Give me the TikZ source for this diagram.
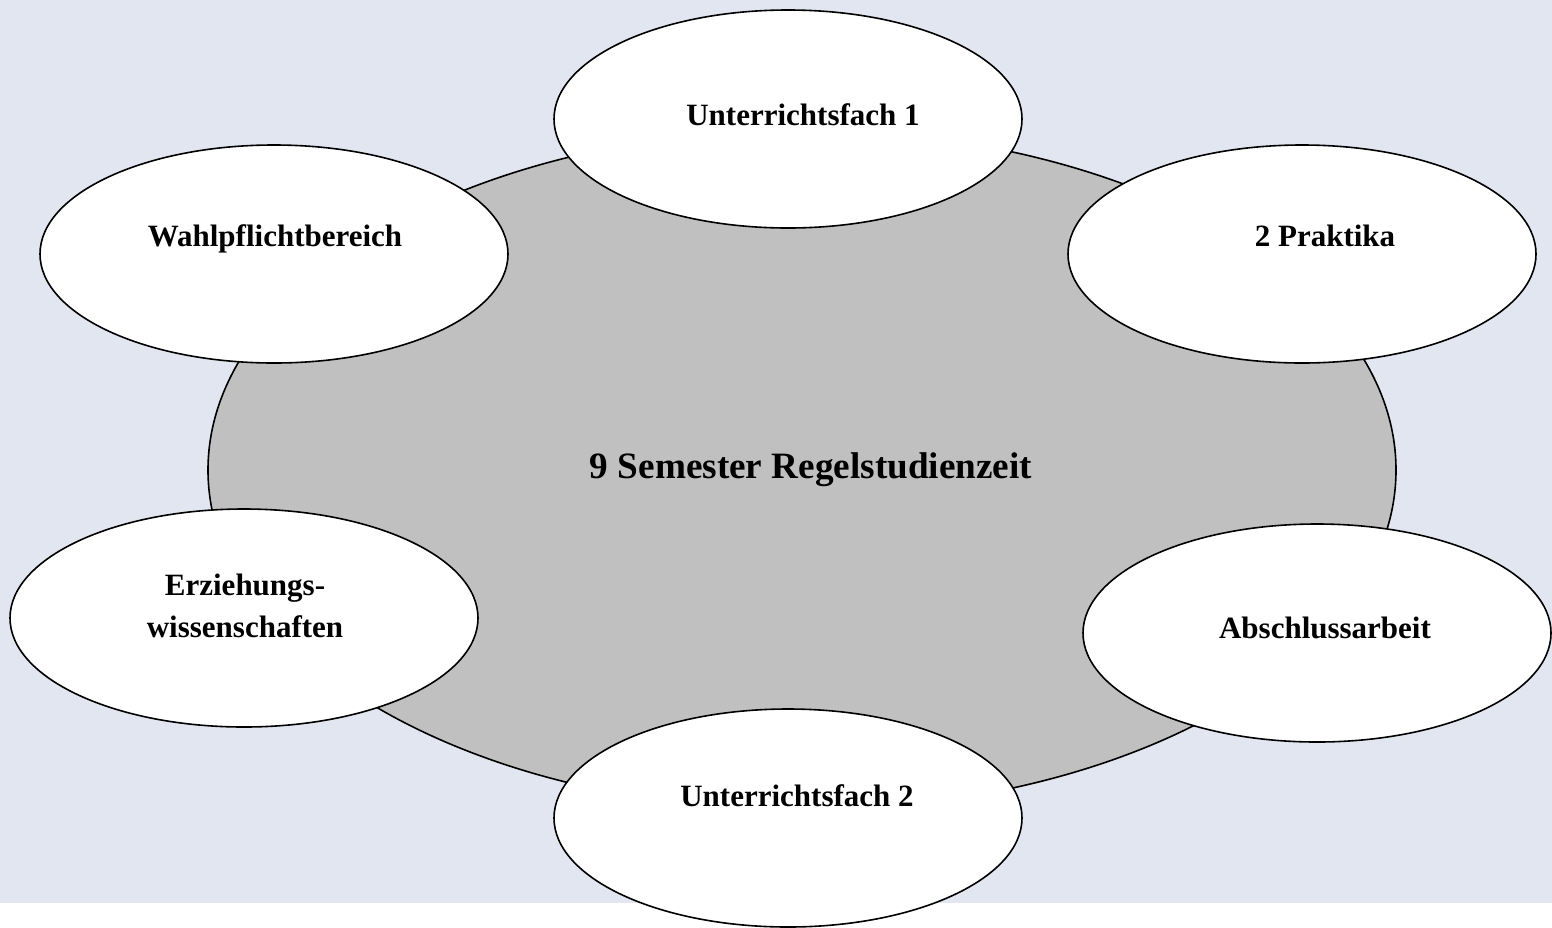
\documentclass[tikz,border=0pt]{standalone}
\usepackage{fontspec}
\setmainfont{Liberation Serif}
\usetikzlibrary{shapes.geometric}
\definecolor{paneblue}{HTML}{E1E6F1}
\definecolor{coregray}{HTML}{C0C0C0}

\begin{document}
\begin{tikzpicture}[x=0.5pt,y=-0.5pt,line width=0.8pt,
    part/.style={ellipse,draw=black,fill=white,minimum width=234pt,minimum height=109pt,inner sep=0pt},
    partlabel/.style={anchor=base,font=\fontsize{15.5}{21}\selectfont\bfseries}]
    \useasboundingbox (0,0) rectangle (1552,927);
    \fill[paneblue] (0,0) rectangle (1552,903);

    % study period
    \node[ellipse,draw=black,fill=coregray,minimum width=594pt,minimum height=340pt,inner sep=0pt] (core) at (802,470) {};
    \node[anchor=base,font=\fontsize{18.6}{22}\selectfont\bfseries] (corelabel) at (811,478) {9 Semester Regelstudienzeit};

    % parts of the study
    \node[part] (fach1) at (788,119) {};
    \node[part] (wahl) at (274,254) {};
    \node[part] (prak) at (1302,254) {};
    \node[part] (erz) at (244,618) {};
    \node[part] (arbeit) at (1317,633) {};
    \node[part] (fach2) at (788,818) {};

    \node[partlabel] (fach1label) at (803,125) {Unterrichtsfach 1};
    \node[partlabel] (wahllabel) at (275,246) {Wahlpflichtbereich};
    \node[partlabel] (praklabel) at (1325,246) {2 Praktika};
    \node[partlabel,anchor=center,align=center] (erzlabel) at (245,606) {Erziehungs-\\wissenschaften};
    \node[partlabel] (arbeitlabel) at (1325,638) {Abschlussarbeit};
    \node[partlabel] (fach2label) at (797,806) {Unterrichtsfach 2};
\end{tikzpicture}
\end{document}
